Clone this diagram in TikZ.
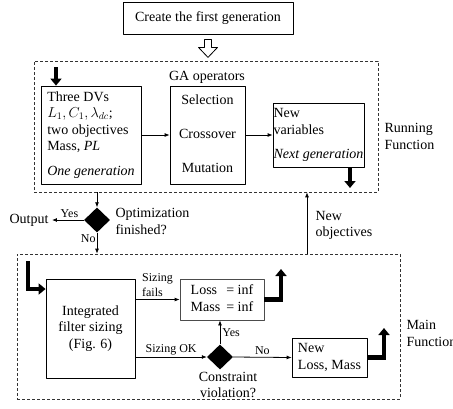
\documentclass[tikz,border=0pt]{standalone}
\usepackage{fontspec}
\setmainfont{Liberation Serif}
\usetikzlibrary{shapes.geometric,arrows.meta}

\tikzset{
  box/.style={draw,line width=.8pt,inner sep=0pt},
  dbox/.style={draw=black!80,line width=.7pt,dash pattern=on 3pt off 2pt},
  dec/.style={diamond,fill=black,minimum width=26pt,minimum height=25pt,inner sep=0pt},
  con/.style={line width=.8pt,-{Latex[length=5pt,width=4pt]}},
  fat/.style={line width=4.5pt,line join=miter,-{Triangle[width=11pt,length=7pt]}},
  lbl/.style={font=\fontsize{12}{15}\selectfont,inner sep=2pt},
}

\begin{document}
\begin{tikzpicture}[x=1pt,y=-1pt,font=\fontsize{14}{16.5}\selectfont,line join=round]
\useasboundingbox (0,0) rectangle (453,408);
% running function
\node[box,minimum width=170,minimum height=32] (first) at (208,18) {Create the first generation};
\draw[line width=.8pt,fill=white] ([shift={(-3.5,5)}]first.south) -- ++(7,0) -- ++(0,8) -- ++(6,0)
  -- ++(-9.5,10) -- ++(-9.5,-10) -- ++(6,0) -- cycle;
\node[dbox,minimum width=344,minimum height=131] (run) at (206,126.5) {};
\node[box,minimum width=100,minimum height=98] (dv) at (91,135) {\begin{tabular}{@{}l@{}}Three DVs\\
  $L_1, C_1, \lambda_{dc}$;\\ two objectives\\ Mass, \textit{PL}\\[8.5pt]
  \multicolumn{1}{@{}c@{}}{\textit{One generation}}\end{tabular}};
\node (gaop) at (207,77) {GA operators};
\node[box,minimum width=75,minimum height=98] (ga) at (207.5,135) {\begin{tabular}{@{}c@{}}Selection\\[17.5pt]
  Crossover\\[17.5pt] Mutation\end{tabular}};
\node[box,minimum width=91,minimum height=64] (nv) at (318.5,135) {\begin{tabular}{@{}l@{}}New\\ variables\\[8pt]
  \textit{Next generation}\end{tabular}};
\node[align=left,anchor=west] (runlbl) at (381,136.5) {Running\\ Function};
\coordinate (inA) at (56,67);
\draw[fat] (inA) -- (inA |- dv.north);
\draw[con] (dv.east) -- (ga.west);
\draw[con] (ga.east) -- (nv.west);
\coordinate (outA) at (350,188);
\draw[fat] (nv.south -| outA) -- (outA);
% decision
\node[dec] (opt) at (97,220) {};
\node (out) at (29,220) {Output};
\node[align=left,anchor=west] (optlbl) at (112,221.5) {Optimization\\ finished?};
\draw[con] (run.south -| opt) -- (opt.north);
\draw[con] (opt.west) -- (out.east) node[pos=.45,above,lbl]{Yes};
% main function
\node[dbox,minimum width=383,minimum height=145] (main) at (208.5,326.5) {};
\draw[con] (opt.south) -- (opt.south |- main.north) node[pos=.27,left,lbl,inner sep=1pt]{No};
\coordinate (objx) at (307,0);
\draw[con] (main.north -| objx) -- (run.south -| objx);
\node[align=left,anchor=west] (objlbl) at (312,225.5) {New\\ objectives};
\node[box,minimum width=89,minimum height=99] (int) at (90.5,328.5) {\begin{tabular}{@{}c@{}}Integrated\\
  filter sizing\\ (Fig. 6)\end{tabular}};
\node[box,draw=black!70,minimum width=84,minimum height=41] (loss) at (222,299.5)
  {\begin{tabular}{@{}l@{\hspace{6pt}}l@{}}Loss & = inf\\ Mass & = inf\end{tabular}};
\node[dec] (cons) at (220,357) {};
\node[align=center] (conslbl) at (228,385) {Constraint\\ violation?};
\node[box,minimum width=75,minimum height=39] (newlm) at (329.5,357.5) {\begin{tabular}{@{}l@{}}New\\
  Loss, Mass\end{tabular}};
\node[align=left,anchor=west] (mainlbl) at (403,333.5) {Main\\ Function};
\draw[con] (loss.west -| int.east) -- (loss.west) node[midway,above,align=left,lbl]{Sizing\\ fails};
\draw[con] (cons.west -| int.east) -- (cons.west) node[midway,above,lbl]{Sizing OK};
\draw[con] (cons.north) -- (cons.north |- loss.south) node[midway,right,lbl]{Yes};
\draw[con] (cons.east) -- (newlm.west) node[midway,above,lbl]{No};
\coordinate (inB) at (28,261);
\coordinate (inBend) at (46,289);
\draw[fat] (inB) |- (int.west |- inBend);
\coordinate (upA) at (281,269);
\draw[fat] (loss.east) -| (upA);
\coordinate (upB) at (384,328);
\draw[fat] (newlm.east) -| (upB);
\end{tikzpicture}
\end{document}
